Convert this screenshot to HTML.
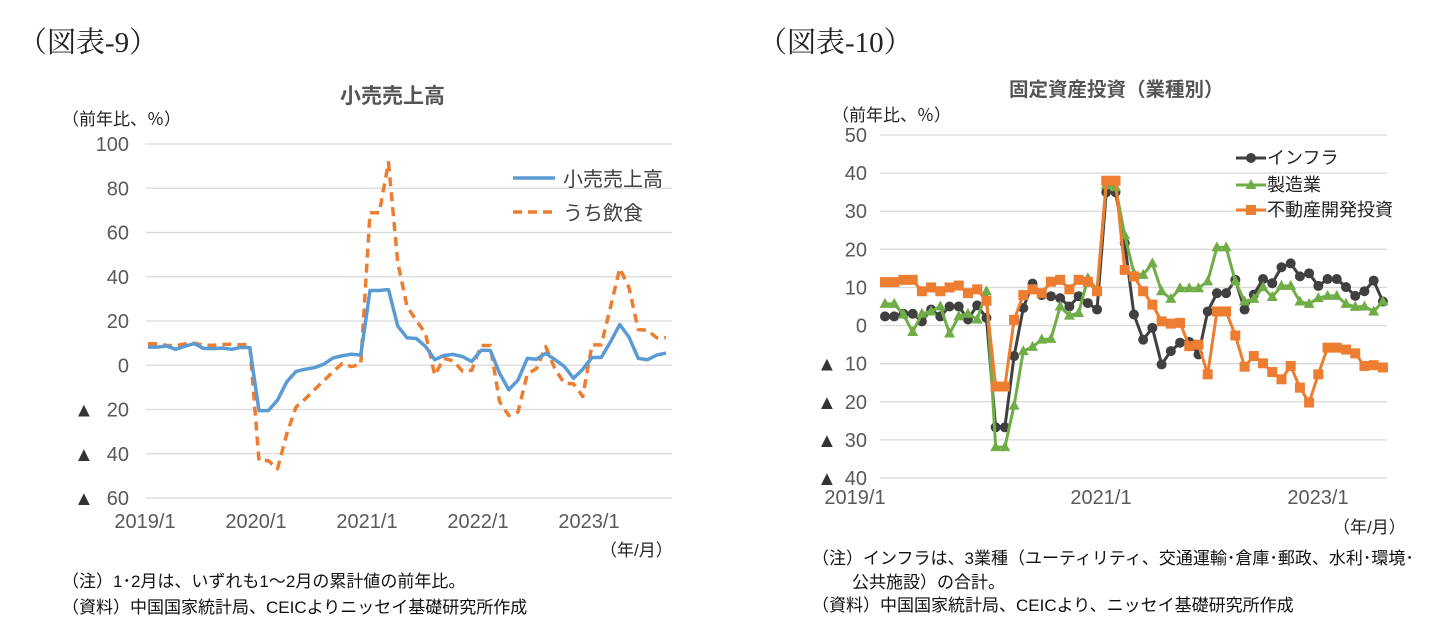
<!DOCTYPE html>
<html><head><meta charset="utf-8">
<style>
body{margin:0;background:#fff;width:1452px;height:633px;overflow:hidden;position:relative;font-family:"Liberation Sans","Noto Sans CJK JP",sans-serif;}
.t{position:absolute;white-space:nowrap;}
.fig{font-family:"Liberation Serif","Noto Serif CJK JP",serif;font-size:29px;color:#222;}
.ttl{font-weight:bold;color:#555;}
.sm{font-size:17px;color:#222;}
.note{font-size:17px;color:#111;}
svg text{font-family:"Liberation Sans","Noto Sans CJK JP",sans-serif;}
</style></head><body>
<div class="t fig" style="left:18px;top:20px">（図表-9）</div>
<div class="t fig" style="left:758px;top:20px">（図表-10）</div>
<div class="t ttl" style="left:340px;top:80px;font-size:21px">小売売上高</div>
<div class="t ttl" style="left:1009px;top:73px;font-size:19.5px">固定資産投資（業種別）</div>
<div class="t sm" style="left:62px;top:105px">（前年比、％）</div>
<div class="t sm" style="left:832px;top:101px">（前年比、％）</div>
<div class="t sm" style="left:600px;top:536px">（年/月）</div>
<div class="t sm" style="left:1333px;top:513px">（年/月）</div>
<div class="t note" style="left:62px;top:567px">（注）1･2月は、いずれも1～2月の累計値の前年比。</div>
<div class="t note" style="left:62px;top:593px">（資料）中国国家統計局、CEICよりニッセイ基礎研究所作成</div>
<div class="t note" style="left:812px;top:544px">（注）インフラは、3業種（ユーティリティ、交通運輸･倉庫･郵政、水利･環境･</div>
<div class="t note" style="left:852px;top:568px">公共施設）の合計。</div>
<div class="t note" style="left:812px;top:591px">（資料）中国国家統計局、CEICより、ニッセイ基礎研究所作成</div>
<svg id="svg" width="1452" height="633" style="position:absolute;left:0;top:0"></svg>
<script>
// Left chart data (monthly, 2019/1 - 2023/9)
const retailTotal=[8.2,8.2,8.7,7.2,8.6,9.8,7.6,7.5,7.8,7.2,8.0,8.0,
-20.5,-20.5,-15.8,-7.5,-2.8,-1.8,-1.1,0.5,3.3,4.3,5.0,4.6,
33.8,33.8,34.2,17.7,12.4,12.1,8.5,2.5,4.4,4.9,3.9,1.7,
6.7,6.7,-3.5,-11.1,-6.7,3.1,2.7,5.4,2.5,-0.5,-5.9,-1.8,
3.5,3.5,10.6,18.4,12.7,3.1,2.5,4.6,5.5];
const retailCatering=[9.7,9.7,9.0,8.8,9.7,10.0,9.1,9.0,9.4,9.5,9.2,9.5,
-43.1,-43.1,-46.8,-31.1,-18.9,-15.2,-11.0,-7.0,-2.9,0.8,-0.6,0.4,
68.9,68.9,91.6,46.4,26.6,20.3,14.3,-4.5,3.1,2.0,-2.7,-2.3,
8.9,8.9,-16.4,-22.7,-21.1,-4.0,-1.5,8.4,-1.7,-8.1,-8.4,-14.1,
9.2,9.2,26.3,43.8,35.1,16.1,15.8,12.4,12.5];
const leftTicks=[100,80,60,40,20,0,-20,-40,-60];
const leftXLabels=["2019/1","2020/1","2021/1","2022/1","2023/1"];
// Right chart data (monthly, 2019/1 - 2023/7)
const infra=[2.4,2.4,3.1,3.1,1.1,4.2,2.4,5,5,1.6,5.3,2,
-26.7,-26.7,-8,4.6,11,8,7.7,7.2,5,7.7,5.9,4.2,
35,35,21.6,2.9,-3.7,-0.6,-10.2,-6.7,-4.5,-4.3,-7.6,3.7,8.5,8.5,12,4.2,8.1,12.2,11.1,15.3,16.3,12.9,13.7,10.4,12.2,12.2,10.1,7.8,9,11.8,6.3];
const manuf=[5.7,5.7,2.9,-1.7,3.1,3.7,5,-2.1,2.4,3.1,1.6,9,
-31.9,-31.9,-21,-6.7,-5.6,-3.7,-3.5,5,2.6,3.3,12.4,9.4,
36.8,36.3,23.7,13.7,13.3,16.3,9,7,9.8,9.8,9.8,11.6,20.5,20.5,11.6,6.3,7,10.1,7.5,10.4,10.4,6.3,5.7,7.2,7.8,7.8,5.7,4.9,5,3.7,6.3];
const realEstate=[11.4,11.4,12,12,9,10,9,10,10.5,8.5,9.5,6.5,
-16,-16,1.5,8,9.5,8.5,11.5,12,9.5,12,11.5,9,
38,38,14.6,12.9,9,5.5,1.1,0.5,0.7,-5.4,-5,-12.8,3.7,3.7,-2.6,-10.8,-8,-9.9,-12.2,-14.1,-10.6,-16.3,-20.2,-12.8,-5.8,-5.8,-6.3,-7.3,-10.6,-10.4,-11];
const rightTicks=[50,40,30,20,10,0,-10,-20,-30,-40];
const rightXLabels=["2019/1","2021/1","2023/1"];

const NS="http://www.w3.org/2000/svg";
const svg=document.getElementById('svg');
function mk(tag,attrs,parent){const e=document.createElementNS(NS,tag);for(const k in attrs)e.setAttribute(k,attrs[k]);(parent||svg).appendChild(e);return e;}

// ---- Left chart ----
const L={x0:148,dx:9.25,ymin:-60,ymax:100,ytop:144,ybot:498};
const lx=i=>L.x0+i*L.dx;
const ly=v=>L.ybot-(v-L.ymin)/(L.ymax-L.ymin)*(L.ybot-L.ytop);
leftTicks.forEach(v=>{
  const g=mk('line',{x1:146,x2:672,y1:ly(v),y2:ly(v),stroke:'#d9d9d9','stroke-width':1.3});
  
  
  const t=mk('text',{x:129,y:ly(v)+7,'text-anchor':'end','font-size':20,fill:'#595959'});
  t.textContent=v<0?Math.abs(v):v;
  
  
  if(v<0){const m=mk('text',{x:74,y:ly(v)+7,'font-size':20,fill:'#333'});m.textContent='▲';
  
  }
});
leftXLabels.forEach((s,i)=>{
  const t=mk('text',{x:lx(i*12)-3,y:528,'text-anchor':'middle','font-size':20,fill:'#595959'});
  t.textContent=s;
  
  
});
function poly(arr,fx,fy,attrs,name){
  const p=mk('polyline',Object.assign({points:arr.map((v,i)=>fx(i)+','+fy(v)).join(' '),fill:'none','stroke-linejoin':'round'},attrs));
  
  
  return p;
}
poly(retailCatering,lx,ly,{stroke:'#ed7d31','stroke-width':3.5,'stroke-dasharray':'9,6'},'catering-line');
poly(retailTotal,lx,ly,{stroke:'#5b9bd5','stroke-width':3.5},'retail-total-line');
// legend left
let e=mk('line',{x1:513,x2:555,y1:178,y2:178,stroke:'#5b9bd5','stroke-width':3.5});

e=mk('text',{x:563,y:186,'font-size':20,fill:'#404040'});e.textContent='小売売上高';

e=mk('line',{x1:513,x2:555,y1:212,y2:212,stroke:'#ed7d31','stroke-width':3.5,'stroke-dasharray':'9,6'});

e=mk('text',{x:563,y:220,'font-size':20,fill:'#404040'});e.textContent='うち飲食';


// ---- Right chart ----
const R={x0:885,dx:9.22,ymin:-40,ymax:50,ytop:135,ybot:478};
const rx=i=>R.x0+i*R.dx;
const ry=v=>R.ybot-(v-R.ymin)/(R.ymax-R.ymin)*(R.ybot-R.ytop);
rightTicks.forEach(v=>{
  const g=mk('line',{x1:880,x2:1387,y1:ry(v),y2:ry(v),stroke:'#d9d9d9','stroke-width':1.3});
  
  
  const t=mk('text',{x:867,y:ry(v)+7,'text-anchor':'end','font-size':20,fill:'#595959'});
  t.textContent=v<0?Math.abs(v):v;
  
  
  if(v<0){const m=mk('text',{x:817,y:ry(v)+7,'font-size':20,fill:'#333'});m.textContent='▲';
  
  }
});
const rLabX=[855,1101,1318];
rightXLabels.forEach((s,i)=>{
  const t=mk('text',{x:rLabX[i],y:504,'text-anchor':'middle','font-size':20,fill:'#595959'});
  t.textContent=s;
  
  
});
function markers(arr,type,color,name){
  arr.forEach((v,i)=>{
    const x=rx(i),y=ry(v);let m;
    if(type==='c')m=mk('circle',{cx:x,cy:y,r:5,fill:color});
    else if(type==='t')m=mk('polygon',{points:`${x},${y-6} ${x-5.5},${y+4} ${x+5.5},${y+4}`,fill:color});
    else m=mk('rect',{x:x-5,y:y-5,width:10,height:10,fill:color});
    
    
  });
}
poly(infra,rx,ry,{stroke:'#404040','stroke-width':3},'infra-line');markers(infra,'c','#404040','infra-point');
poly(manuf,rx,ry,{stroke:'#70ad47','stroke-width':3},'manufacturing-line');markers(manuf,'t','#70ad47','manufacturing-point');
poly(realEstate,rx,ry,{stroke:'#ed7d31','stroke-width':3},'real-estate-line');markers(realEstate,'s','#ed7d31','real-estate-point');
// legend right
const leg=[['インフラ','#404040','c',158],['製造業','#70ad47','t',185],['不動産開発投資','#ed7d31','s',210]];
leg.forEach(([lab,col,tp,y])=>{
  let l=mk('line',{x1:1236,x2:1266,y1:y,y2:y,stroke:col,'stroke-width':3});
  
  let m;
  if(tp==='c')m=mk('circle',{cx:1251,cy:y,r:5,fill:col});
  else if(tp==='t')m=mk('polygon',{points:`1251,${y-6} 1245.5,${y+4} 1256.5,${y+4}`,fill:col});
  else m=mk('rect',{x:1246,y:y-5,width:10,height:10,fill:col});
  
  const t=mk('text',{x:1267,y:y+6,'font-size':18,fill:'#222'});t.textContent=lab;
  
});
</script>
</body></html>
